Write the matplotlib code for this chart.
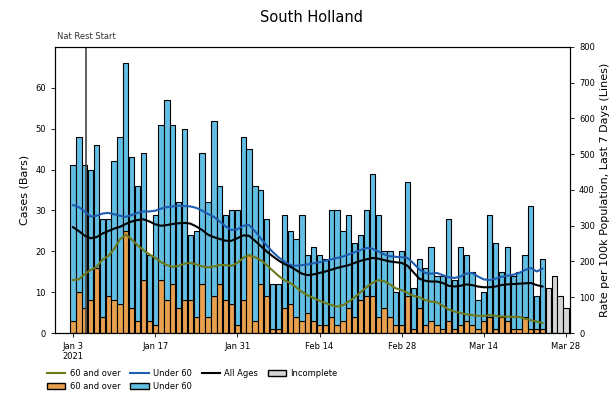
import matplotlib
matplotlib.use("Agg")
import matplotlib.pyplot as plt
import matplotlib.dates as mdates
import matplotlib.transforms as mtransforms
from matplotlib.patches import Patch
from matplotlib.lines import Line2D
import pandas as pd

# daily cases, Jan 3 - Mar 24 2021 (complete days)
dates = pd.date_range("2021-01-03", periods=81, freq="D")
total_cases = [41, 48, 41, 40, 46, 28, 28, 42, 48, 66,
               43, 36, 44, 19, 29, 51, 57, 51, 32, 50,
               24, 25, 44, 32, 52, 36, 29, 30, 30, 48,
               45, 36, 35, 28, 12, 12, 29, 25, 23, 29,
               19, 21, 19, 18, 30, 30, 25, 29, 22, 24,
               30, 39, 29, 20, 20, 10, 20, 37, 11, 18,
               16, 21, 14, 14, 28, 13, 21, 19, 15, 8,
               10, 29, 22, 15, 21, 14, 15, 19, 31, 9,
               18]
over60_cases = [3, 10, 6, 8, 16, 4, 9, 8, 7, 25,
                6, 3, 13, 3, 2, 13, 8, 12, 6, 8,
                8, 4, 12, 4, 9, 12, 8, 7, 2, 8,
                19, 3, 12, 9, 1, 1, 6, 7, 4, 3,
                5, 3, 2, 2, 4, 2, 3, 6, 4, 8,
                9, 9, 4, 6, 4, 2, 2, 9, 1, 6,
                2, 3, 2, 1, 3, 1, 2, 3, 2, 1,
                3, 4, 1, 4, 3, 1, 1, 4, 1, 1,
                1]
under60_cases = [t - o for t, o in zip(total_cases, over60_cases)]

# incomplete days
inc_dates = pd.date_range("2021-03-25", periods=4, freq="D")
inc_cases = [11, 14, 9, 6]

# 7-day rate per 100k
rate_over60 = [148, 150, 165, 176, 185, 205, 215, 235, 262, 275,
               262, 245, 232, 220, 210, 198, 190, 185, 188, 194,
               196, 192, 186, 184, 186, 190, 190, 188, 196, 210,
               218, 212, 204, 190, 175, 160, 148, 140, 128, 115,
               105, 98, 90, 84, 78, 74, 78, 88, 100, 114,
               128, 140, 148, 145, 136, 125, 120, 112, 104, 100,
               92, 88, 86, 76, 66, 60, 56, 52, 50, 48,
               48, 50, 48, 46, 46, 45, 45, 40, 36, 32,
               28]
rate_under60 = [358, 352, 340, 326, 328, 334, 336, 332, 328, 325,
                330, 336, 340, 340, 342, 348, 352, 354, 356, 355,
                354, 350, 342, 333, 325, 312, 298, 288, 290, 300,
                302, 285, 265, 245, 227, 212, 200, 190, 188, 190,
                192, 195, 198, 202, 206, 210, 214, 220, 226, 232,
                238, 236, 228, 220, 215, 213, 212, 210, 195, 178,
                168, 166, 168, 162, 156, 154, 158, 166, 168, 158,
                150, 148, 152, 157, 160, 163, 168, 176, 182, 172,
                180]
rate_all = [296, 285, 272, 265, 268, 278, 285, 292, 297, 305,
            312, 316, 318, 312, 304, 300, 302, 305, 307, 308,
            306, 298, 288, 275, 268, 263, 258, 258, 265, 273,
            272, 258, 243, 228, 215, 203, 193, 186, 176, 166,
            162, 164, 168, 172, 177, 182, 186, 190, 196, 202,
            206, 210, 208, 204, 200, 198, 196, 188, 170, 152,
            146, 144, 144, 140, 132, 130, 132, 136, 134, 130,
            128, 128, 130, 134, 136, 137, 138, 139, 140, 134,
            130]

c_over = "#E8A04E"
c_under = "#62BEE2"
c_line_over = "#6E7A1C"
c_line_under = "#1F5DB0"

fig = plt.figure(figsize=(6.16, 3.94), dpi=100)
ax = fig.add_axes([0.0893, 0.1548, 0.836, 0.726])

bw = 0.9
ax.bar(dates, over60_cases, width=bw, color=c_over, edgecolor="black", linewidth=0.8)
ax.bar(dates, under60_cases, width=bw, bottom=over60_cases, color=c_under,
       edgecolor="black", linewidth=0.8)
ax.bar(inc_dates, inc_cases, width=bw, color="#D6D6D6", edgecolor="black", linewidth=0.8)

ax.set_ylim(0, 70)
ax.set_yticks(range(0, 70, 10))
ax.set_xlim(pd.Timestamp("2021-01-03") - pd.Timedelta(days=3.07),
            pd.Timestamp("2021-03-28") + pd.Timedelta(days=0.68))
ax.set_ylabel("Cases (Bars)", fontsize=8)

# x ticks every 2 weeks
ax.xaxis.set_major_locator(mdates.WeekdayLocator(byweekday=mdates.SU, interval=2))


def fmt(x, pos):
    d = mdates.num2date(x)
    s = d.strftime("%b ") + str(d.day)
    if pos == 0:
        s += "\n2021"
    return s


ax.xaxis.set_major_formatter(plt.FuncFormatter(fmt))
ax.tick_params(labelsize=6, length=3, width=0.6)

# national restriction start marker
nat = pd.Timestamp("2021-01-05 05:00")
ax.axvline(nat, color="#444444", linewidth=1.2, zorder=5)
trans = mtransforms.blended_transform_factory(ax.transData, ax.transAxes)
ax.text(nat, 1.02, "Nat Rest Start", transform=trans, ha="center", va="bottom",
        fontsize=6, color="#333333")

ax2 = ax.twinx()
ax2.plot(dates, rate_over60, color=c_line_over, linewidth=1.5)
ax2.plot(dates, rate_under60, color=c_line_under, linewidth=1.5)
ax2.plot(dates, rate_all, color="black", linewidth=1.5)
ax2.set_ylim(0, 800)
ax2.set_yticks(range(0, 900, 100))
ax2.tick_params(labelsize=6, length=3, width=0.6)
ax2.set_ylabel("Rate per 100k Population, Last 7 Days (Lines)", fontsize=8)

fig.suptitle("South Holland", x=0.505, y=0.975, fontsize=10.5)

handles = [
    Line2D([0], [0], color=c_line_over, linewidth=1.5),
    Patch(facecolor=c_over, edgecolor="black"),
    Line2D([0], [0], color=c_line_under, linewidth=1.5),
    Patch(facecolor=c_under, edgecolor="black"),
    Line2D([0], [0], color="black", linewidth=1.5),
    Patch(facecolor="#D6D6D6", edgecolor="black"),
]
labels = ["60 and over", "60 and over", "Under 60", "Under 60", "All Ages", "Incomplete"]
ax.legend(handles, labels, ncol=4, loc="upper left", bbox_to_anchor=(-0.03, -0.1),
          frameon=False, fontsize=6, handlelength=2.2, columnspacing=1.2,
          handletextpad=0.5, labelspacing=0.5)

fig.savefig("out.png", dpi=100)
